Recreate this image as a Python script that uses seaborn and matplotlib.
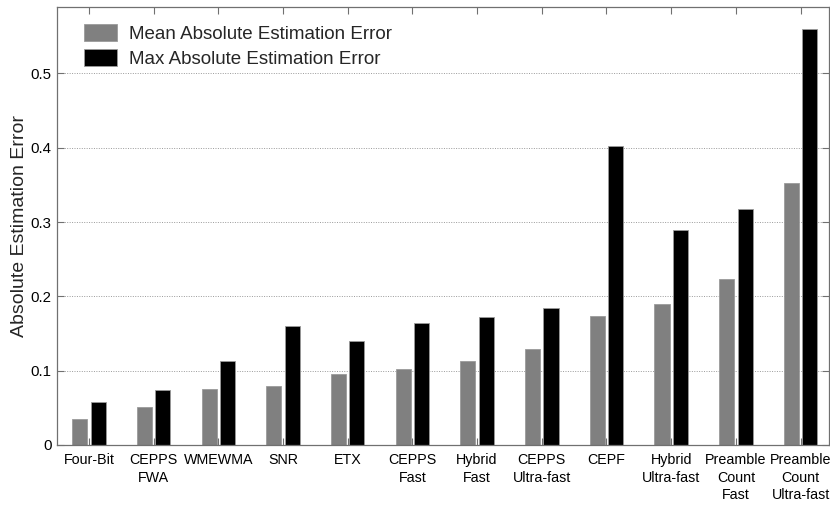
import matplotlib
matplotlib.use("Agg")
import matplotlib.pyplot as plt
import matplotlib.patches as mpatches
import seaborn as sns
import pandas as pd

categories = ["Four-Bit", "CEPPS\nFWA", "WMEWMA", "SNR", "ETX", "CEPPS\nFast",
              "Hybrid\nFast", "CEPPS\nUltra-fast", "CEPF", "Hybrid\nUltra-fast",
              "Preamble\nCount\nFast", "Preamble\nCount\nUltra-fast"]
mean_err = [0.035, 0.0516, 0.075, 0.0794, 0.0955, 0.102, 0.1135, 0.1288,
            0.1736, 0.1898, 0.223, 0.3526]
max_err = [0.0575, 0.074, 0.1126, 0.1597, 0.140, 0.1638, 0.1723, 0.1844,
           0.4028, 0.2894, 0.3176, 0.5603]
series_names = ["Mean Absolute Estimation Error", "Max Absolute Estimation Error"]
yticks = [0, 0.1, 0.2, 0.3, 0.4, 0.5]
ytick_labels = ["0", "0.1", "0.2", "0.3", "0.4", "0.5"]

df = pd.DataFrame({
    "cat": categories * 2,
    "val": mean_err + max_err,
    "series": [series_names[0]] * len(categories) + [series_names[1]] * len(categories),
})

sns.set_style("white")
plt.rcParams["font.family"] = ["Liberation Sans", "DejaVu Sans"]

fig = plt.figure(figsize=(8.3, 5.05), dpi=100)
ax = fig.add_axes([57 / 830, 60 / 505, 772 / 830, 437.7 / 505])

colors = ["#808080", "#000000"]
sns.barplot(data=df, x="cat", y="val", hue="series", order=categories,
            hue_order=series_names, palette=colors, width=0.568, gap=0.18,
            edgecolor="#9a9a9a", linewidth=0.6, ax=ax, legend=False)

ax.set_xlim(-0.495, 11.44)
ax.set_ylim(0, 0.589)
ax.set_yticks(yticks)
ax.set_yticklabels(ytick_labels, fontsize=10.8)
ax.set_xticks(range(len(categories)))
ax.set_xticklabels(categories, fontsize=10.3, linespacing=1.32)
ax.set_xlabel("")
ax.set_ylabel("Absolute Estimation Error", fontsize=14, labelpad=2)

ax.yaxis.grid(True, linestyle=(0, (1, 1.5)), color="#9a9a9a", linewidth=0.7)
ax.set_axisbelow(True)
for s in ax.spines.values():
    s.set_visible(True)
    s.set_color("#707070")
    s.set_linewidth(0.9)
ax.tick_params(axis="both", direction="in", length=5, color="#707070",
               top=True, right=True, bottom=True, left=True, labelcolor="black")
ax.tick_params(axis="x", pad=6)
ax.tick_params(axis="y", pad=4)

handles = [mpatches.Patch(facecolor=c, edgecolor="#9a9a9a", linewidth=0.6) for c in colors]
ax.legend(handles, series_names, loc="upper left", bbox_to_anchor=(0.035, 0.962),
          frameon=False, fontsize=13.5, handlelength=1.75, handleheight=1.05,
          handletextpad=0.65, labelspacing=0.3, borderaxespad=0, borderpad=0)

fig.savefig("out.png", dpi=100)
